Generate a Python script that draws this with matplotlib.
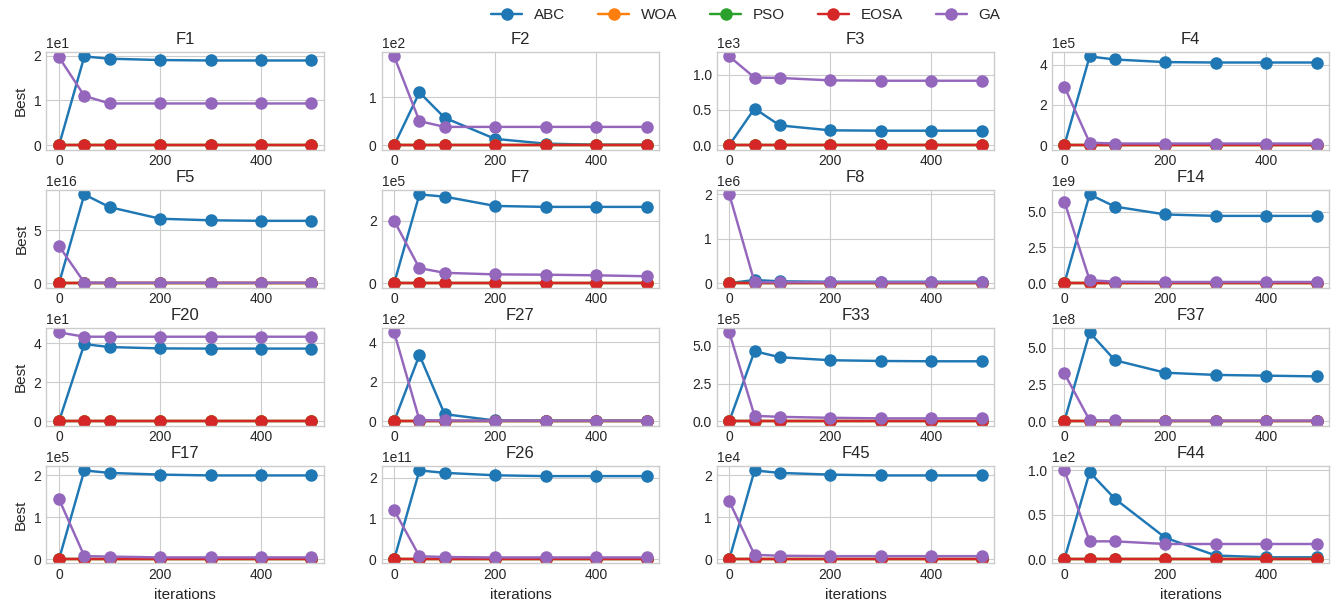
import matplotlib
matplotlib.use("Agg")
import matplotlib.pyplot as plt

plt.style.use("seaborn-v0_8-whitegrid")
plt.rcParams["font.family"] = ["Liberation Sans", "DejaVu Sans"]

iterations = [0, 50, 100, 200, 300, 400, 500]
functions = ["F1", "F2", "F3", "F4", "F5", "F7", "F8", "F14",
             "F20", "F27", "F33", "F37", "F17", "F26", "F45", "F44"]
algorithms = ["ABC", "WOA", "PSO", "EOSA", "GA"]
colors = ["#1f77b4", "#ff7f0e", "#2ca02c", "#d62728", "#9467bd"]

ABC = [
    [0, 19.8, 19.3, 19.0, 18.9, 18.9, 18.9],
    [0, 110, 57, 13, 3, 1, 1],
    [0, 520, 280, 210, 205, 205, 205],
    [0, 4.4e5, 4.25e5, 4.12e5, 4.1e5, 4.1e5, 4.1e5],
    [0, 8.4e16, 7.2e16, 6.1e16, 5.95e16, 5.9e16, 5.9e16],
    [0, 2.85e5, 2.78e5, 2.48e5, 2.45e5, 2.45e5, 2.45e5],
    [0, 7e4, 4e4, 3e4, 3e4, 3e4, 3e4],
    [0, 6.2e9, 5.35e9, 4.8e9, 4.7e9, 4.7e9, 4.7e9],
    [0, 39.5, 38.0, 37.3, 37.2, 37.2, 37.2],
    [0, 335, 35, 3, 2, 2, 2],
    [0, 4.65e5, 4.25e5, 4.05e5, 4.0e5, 3.98e5, 3.98e5],
    [0, 6.05e8, 4.15e8, 3.3e8, 3.15e8, 3.1e8, 3.05e8],
    [0, 2.12e5, 2.06e5, 2.02e5, 2.0e5, 2.0e5, 2.0e5],
    [0, 2.18e11, 2.12e11, 2.06e11, 2.04e11, 2.04e11, 2.04e11],
    [0, 2.12e4, 2.06e4, 2.02e4, 2.0e4, 2.0e4, 2.0e4],
    [0, 98, 68, 24, 4, 2, 2],
]
GA = [
    [19.6, 11.0, 9.3, 9.3, 9.3, 9.3, 9.3],
    [185, 50, 38, 38, 38, 38, 38],
    [1260, 960, 955, 920, 915, 915, 915],
    [2.9e5, 1.2e4, 8e3, 8e3, 8e3, 8e3, 8e3],
    [3.5e16, 5e14, 3e14, 3e14, 3e14, 3e14, 3e14],
    [2.0e5, 4.8e4, 3.3e4, 2.8e4, 2.7e4, 2.5e4, 2.2e4],
    [2.0e6, 2e4, 2e4, 2e4, 2e4, 2e4, 2e4],
    [5.7e9, 2e8, 1e8, 8e7, 8e7, 8e7, 8e7],
    [45.5, 43.3, 43.3, 43.3, 43.3, 43.3, 43.3],
    [450, 5, 3, 2, 2, 2, 2],
    [5.9e5, 3.5e4, 2.8e4, 2.2e4, 1.8e4, 1.8e4, 1.8e4],
    [3.25e8, 5e6, 4e6, 3e6, 3e6, 3e6, 3e6],
    [1.43e5, 7e3, 6e3, 4e3, 4e3, 4e3, 4e3],
    [1.2e11, 7e9, 5e9, 4e9, 4e9, 4e9, 4e9],
    [1.38e4, 1e3, 8e2, 7e2, 7e2, 7e2, 7e2],
    [100, 20, 20, 17, 17, 17, 17],
]
WOA = [[0, 0, 0, 0, 0, 0, 0] for _ in functions]
PSO = [[0, 0, 0, 0, 0, 0, 0] for _ in functions]
EOSA = [[0, 0, 0, 0, 0, 0, 0] for _ in functions]

series = [ABC, WOA, PSO, EOSA, GA]

fig, axes = plt.subplots(4, 4, figsize=(13.43, 6.05), dpi=100)
fig.subplots_adjust(left=0.0346, right=0.9899, top=0.914, bottom=0.0686,
                    wspace=0.207, hspace=0.415)

for i, ax in enumerate(axes.flat):
    for name, data, c in zip(algorithms, series, colors):
        ax.plot(iterations, data[i], marker="o", color=c, lw=1.75, ms=8, label=name)
    ax.set_title(functions[i], fontsize=12)
    ax.ticklabel_format(axis="y", style="sci", scilimits=(0, 0))
    ax.set_xticks([0, 200, 400])
    ax.tick_params(labelsize=10)
    if i % 4 == 0:
        ax.set_ylabel("Best", fontsize=11)
    if i >= 12:
        ax.set_xlabel("iterations", fontsize=11)

handles, labels = axes[0, 0].get_legend_handles_labels()
fig.legend(handles, labels, loc="center", bbox_to_anchor=(0.5555, 0.975),
           ncol=5, fontsize=11, columnspacing=2.15, frameon=False)

fig.savefig("out.png", dpi=100)
